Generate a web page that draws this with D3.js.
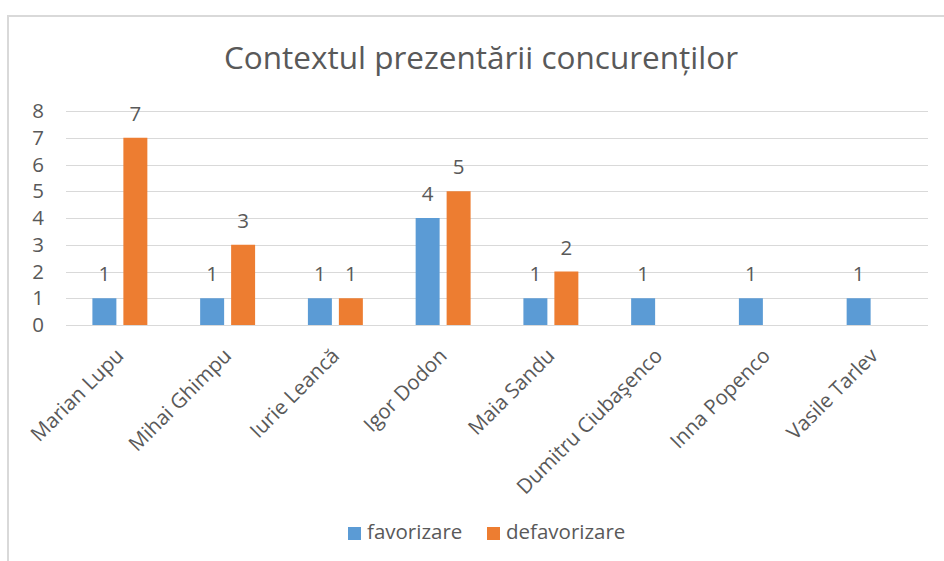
<!DOCTYPE html>
<html>
<head>
<meta charset="utf-8">
<script src="https://cdn.jsdelivr.net/npm/d3@7"></script>
<style>
	body{ margin:0; background:#fff; }
	svg{ display:block; }
	text{ font-family:"Open Sans","DejaVu Sans",sans-serif; fill:#595959; }
</style>
</head>
<body>
<div id="chart"></div>
<script>
// Data
var categories = ['Marian Lupu','Mihai Ghimpu','Iurie Leancă','Igor Dodon','Maia Sandu','Dumitru Ciubaşenco','Inna Popenco','Vasile Tarlev'];
var seriesNames = ['favorizare','defavorizare'];
var favorizare = [1,1,1,4,1,1,1,1];
var defavorizare = [7,3,1,5,2,null,null,null];
var yTicks = [0,1,2,3,4,5,6,7,8];
var colors = ['#5b9bd5','#ed7d31'];

var W = 944, H = 561;
var plot = { left:66, right:928, top:111, bottom:325 };
var fontSize = '20.5px';

var svg = d3.select('#chart').append('svg')
	.attr('width',W)
	.attr('height',H);

// frame (screenshot crop of the chart box)
svg.append('rect')
	.attr('x',8).attr('y',16)
	.attr('width',W+10).attr('height',H+10)
	.attr('fill','#fff')
	.attr('stroke','#d9d9d9')
	.attr('stroke-width',2);

// title
svg.append('text')
	.attr('x',481).attr('y',61)
	.attr('text-anchor','middle')
	.attr('dominant-baseline','middle')
	.style('font-size','31.5px')
	.text('Contextul prezentării concurenților');

var y = d3.scaleLinear().domain([0,8]).range([plot.bottom,plot.top]);
var x0 = d3.scaleBand().domain(categories).range([plot.left,plot.right])
	.paddingInner(0.49).paddingOuter(0.245);
var x1 = d3.scaleBand().domain(seriesNames).range([0,x0.bandwidth()])
	.paddingInner(0.226);

// gridlines
svg.append('g').selectAll('line')
	.data(yTicks)
	.enter().append('line')
	.attr('x1',plot.left).attr('x2',plot.right)
	.attr('y1',function(d){ return Math.round(y(d))+0.5; })
	.attr('y2',function(d){ return Math.round(y(d))+0.5; })
	.attr('stroke','#d9d9d9')
	.attr('stroke-width',1);

// y axis labels
var yAxis = svg.append('g')
	.attr('transform','translate(56,0)')
	.call(d3.axisLeft(y).tickValues(yTicks).tickSize(0).tickPadding(12));
yAxis.select('.domain').remove();
yAxis.selectAll('text')
	.style('font-size',fontSize)
	.style('font-family','"Open Sans",sans-serif')
	.style('fill','#595959');

// bars
var rows = categories.map(function(c,i){
	return { cat:c, vals:[favorizare[i],defavorizare[i]] };
});

var groups = svg.append('g').selectAll('g')
	.data(rows)
	.enter().append('g')
	.attr('transform',function(d){ return 'translate('+x0(d.cat)+',0)'; });

var cells = groups.selectAll('g')
	.data(function(d){
		return seriesNames.map(function(s,j){ return { s:s, j:j, v:d.vals[j] }; })
			.filter(function(e){ return e.v !== null; });
	})
	.enter().append('g');

cells.append('rect')
	.attr('x',function(d){ return x1(d.s); })
	.attr('width',x1.bandwidth())
	.attr('y',function(d){ return y(d.v); })
	.attr('height',function(d){ return y(0)-y(d.v); })
	.attr('fill',function(d){ return colors[d.j]; });

cells.append('text')
	.attr('x',function(d){ return x1(d.s)+x1.bandwidth()/2; })
	.attr('y',function(d){ return y(d.v)-17; })
	.attr('text-anchor','middle')
	.style('font-size',fontSize)
	.text(function(d){ return d.v; });

// x axis labels
var xAxis = svg.append('g')
	.attr('transform','translate(0,'+plot.bottom+')')
	.call(d3.axisBottom(x0).tickSize(0).tickPadding(0));
xAxis.select('.domain').remove();
xAxis.selectAll('text')
	.style('font-size',fontSize)
	.style('font-family','"Open Sans",sans-serif')
	.style('fill','#595959')
	.attr('text-anchor','end')
	.attr('dy','0.35em')
	.attr('transform','translate(0,27) rotate(-45)');

// legend
var legendItems = [
	{ name:'favorizare', x:348 },
	{ name:'defavorizare', x:487 }
];
var legend = svg.append('g').selectAll('g')
	.data(legendItems)
	.enter().append('g')
	.attr('transform',function(d){ return 'translate('+d.x+',527)'; });
legend.append('rect')
	.attr('width',13).attr('height',13)
	.attr('fill',function(d,i){ return colors[i]; });
legend.append('text')
	.attr('x',19).attr('y',6.5)
	.attr('dominant-baseline','middle')
	.style('font-size',fontSize)
	.text(function(d){ return d.name; });
</script>
</body>
</html>
